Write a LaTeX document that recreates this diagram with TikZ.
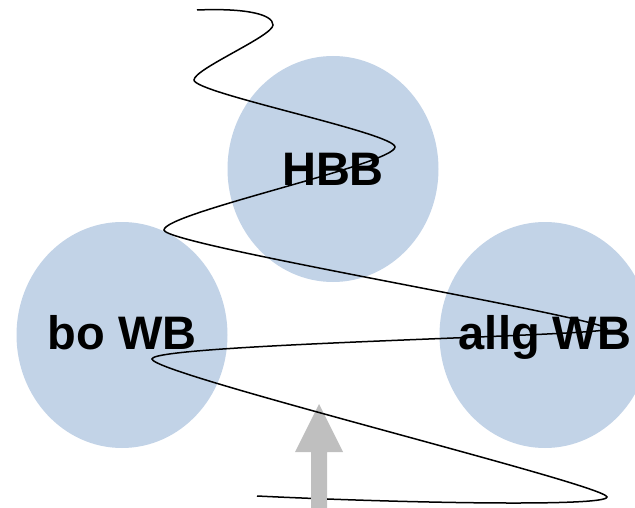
\documentclass[tikz,border=0pt]{standalone}
\usepackage{fontspec}
\setmainfont{Liberation Sans}
\usetikzlibrary{shapes.geometric}
\definecolor{blobfill}{RGB}{194,211,231}
\definecolor{arrowgray}{RGB}{191,191,191}
\tikzset{
  blob/.style={ellipse, fill=blobfill, draw=none, inner sep=0pt,
    minimum width=211pt, minimum height=226pt},
  blobtext/.style={inner sep=0pt, font=\fontsize{47}{47}\selectfont\bfseries,
    text height=33pt, text depth=0pt},
  snake/.style={draw=black, line width=1.5pt},
  bigarrow/.style={fill=arrowgray, draw=none}
}
\begin{document}
\begin{tikzpicture}[x=1pt,y=-1pt]
\useasboundingbox (0,0) rectangle (635,508);
\node[blob] (hbb) at (333,169) {};
\node[blob] (bowb) at (122,335) {};
\node[blob] (allgwb) at (545,335) {};
\node[blobtext] (hbbtext) at (hbb.center) {HBB};
\node[blobtext] (bowbtext) at ([yshift=2pt]bowb.center) {bo WB};
\node[blobtext] (allgwbtext) at ([yshift=2pt]allgwb.center) {allg WB};
\coordinate (sstart) at (197,10);
\coordinate (send) at (257,496);
\coordinate (atip) at (319,404);
\coordinate (abase) at (319,508);
% arrow (head below the curve)
\fill[bigarrow] (abase) ++(-8,0) -- ++(0,-56) -- ++(-16,0) -- (atip) -- ++(24,48) -- ++(-16,0) -- ++(0,56) -- cycle;
% snake curve
\draw[snake] (sstart) .. controls (245,8) and (273,14) .. (273,25)
 .. controls (273,36) and (194,69) .. (194,80)
 .. controls (194,93) and (395,133) .. (395,147)
 .. controls (395,164) and (164,213) .. (164,230)
 .. controls (164,245) and (607,318) .. (607,329)
 .. controls (607,336) and (152,344) .. (152,359)
 .. controls (152,374) and (607,485) .. (607,497)
 .. controls (607,507) and (400,503) .. (send);
% shaft above the curve
\fill[bigarrow] (abase) ++(-8,0) rectangle ++(16,-56);
\end{tikzpicture}
\end{document}
